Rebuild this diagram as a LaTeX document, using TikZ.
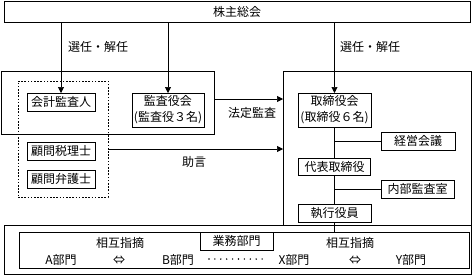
\documentclass[tikz,border=0pt]{standalone}
\usepackage{fontspec}
\setmainfont{Noto Sans CJK JP}
\usetikzlibrary{arrows.meta}
\begin{document}
\begin{tikzpicture}[x=1pt,y=-1pt,
  every node/.style={inner sep=0pt, outer sep=0pt},
  box/.style={draw, line width=0.6pt, align=center, font=\fontsize{12}{16}\selectfont},
  lbl/.style={font=\fontsize{12}{14}\selectfont},
  ln/.style={line width=0.6pt},
  arr/.style={line width=0.6pt, -{Triangle[width=6pt,length=6pt]}}]
\useasboundingbox (0,0) rectangle (472,276);
% frames
\node[box, minimum width=466pt, minimum height=21pt] (top) at (237,11.5) {株主総会};
\node[draw, line width=0.6pt, minimum width=213pt, minimum height=63pt] (leftbox) at (107.5,102.5) {};
\node[draw, line width=0.6pt, dash pattern=on 1.6pt off 1.6pt, minimum width=90pt, minimum height=116pt] (dotbox) at (63,139) {};
\node[draw, line width=0.6pt, minimum width=188pt, minimum height=154pt] (rightbox) at (377,148) {};
\node[draw, line width=0.6pt, minimum width=467pt, minimum height=49pt] (outer) at (237.5,249.5) {};
\node[draw, line width=0.6pt, minimum width=450pt, minimum height=36pt] (inner) at (244,250) {};
% boxes
\node[box, minimum width=68pt, minimum height=18pt] (kaikei) at (61,102) {会計監査人};
\node[box, minimum width=72pt, minimum height=34pt] (kansa) at (168,110) {監査役会\\(監査役３名)};
\node[box, minimum width=68pt, minimum height=18pt] (zeiri) at (61,151) {顧問税理士};
\node[box, minimum width=68pt, minimum height=18pt] (bengo) at (61,179) {顧問弁護士};
\node[box, minimum width=73pt, minimum height=34pt] (torikai) at (334.5,110) {取締役会\\(取締役６名)};
\node[box, minimum width=74pt, minimum height=18pt] (keiei) at (418,141) {経営会議};
\node[box, minimum width=72pt, minimum height=17pt] (daihyo) at (334.5,166.5) {代表取締役};
\node[box, minimum width=73pt, minimum height=18pt] (naibu) at (417.5,189) {内部監査室};
\node[box, minimum width=73pt, minimum height=18pt] (shikko) at (334.5,213) {執行役員};
\node[box, minimum width=73pt, minimum height=18pt] (gyomu) at (236.5,241) {業務部門};
% labels
\node[lbl] (l1) at (98,47) {選任・解任};
\node[lbl] (l2) at (370,47) {選任・解任};
\node[lbl] (l3) at (252,113) {法定監査};
\node[lbl] (l4) at (194,162) {助言};
\node[lbl] (s1) at (120,243) {相互指摘};
\node[lbl] (s2) at (350,243) {相互指摘};
\node[lbl] (da) at (61,260) {A部門};
\node[lbl] (e1) at (119,260) {⇔};
\node[lbl] (db) at (178,260) {B部門};
\node[lbl] (dx) at (294,260) {X部門};
\node[lbl] (e2) at (355,260) {⇔};
\node[lbl] (dy) at (411,260) {Y部門};
\coordinate (dots1) at (209,259);
\coordinate (dots2) at (263,259);
\draw[line width=1.6pt, line cap=round, dash pattern=on 0pt off 5.9pt] (dots1) -- (dots2);
% connectors
\draw[arr] (kaikei.north |- top.south) -- (kaikei.north);
\draw[arr] (kansa.north |- top.south) -- (kansa.north);
\draw[arr] (torikai.north |- top.south) -- (torikai.north);
\draw[arr] (leftbox.east |- 0,99) -- (rightbox.west |- 0,99);
\draw[arr] (dotbox.east |- 0,149) -- (rightbox.west |- 0,149);
\draw[ln] (torikai.south) -- (daihyo.north);
\draw[ln] (daihyo.south) -- (shikko.north);
\draw[ln] (shikko.south) -- (shikko.south |- inner.north);
\draw[ln] (torikai.south |- keiei.west) -- (keiei.west);
\draw[ln] (daihyo.south |- naibu.west) -- (naibu.west);
\end{tikzpicture}
\end{document}
